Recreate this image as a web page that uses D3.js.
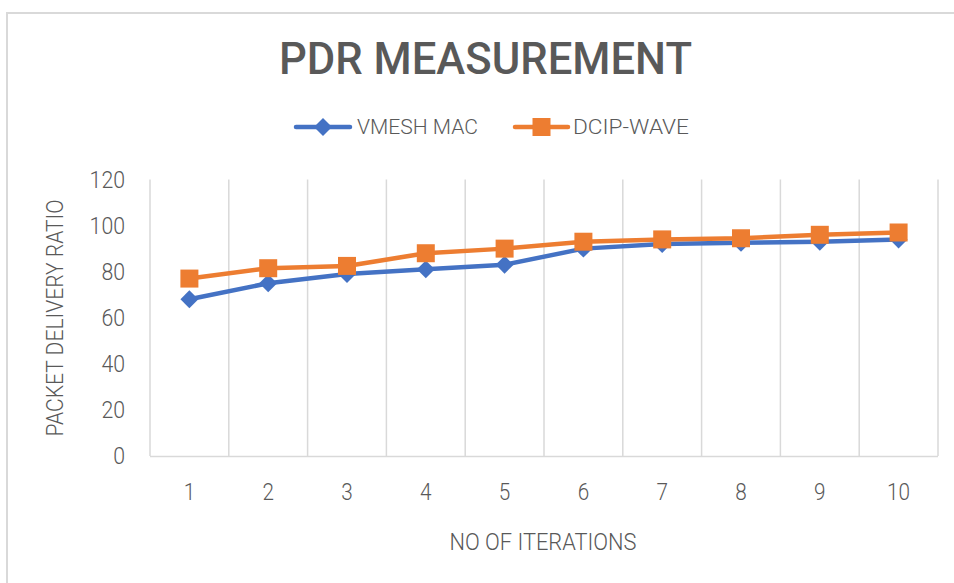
<!DOCTYPE html>
<html>
<head>
<meta charset="utf-8">
<script src="https://cdn.jsdelivr.net/npm/d3@7"></script>
<style>
  html, body { margin: 0; padding: 0; background: #fff; }
  svg { display: block; }
  text { font-family: Roboto, "Liberation Sans", sans-serif; fill: #595959; font-weight: 300; }
</style>
</head>
<body>
<svg id="chart" width="954" height="583"></svg>
<script>
const title = "PDR MEASUREMENT";
const xTitle = "NO OF ITERATIONS";
const yTitle = "PACKET DELIVERY RATIO";
const categories = ["1", "2", "3", "4", "5", "6", "7", "8", "9", "10"];
const seriesNames = ["VMESH MAC", "DCIP-WAVE"];
const vmeshValues = [68, 75, 79, 81, 83, 90, 92, 92.5, 93, 94];
const dcipValues = [77, 81.5, 82.5, 88, 90, 93, 94, 94.5, 96, 97];
const yTicks = [0, 20, 40, 60, 80, 100, 120];
const colors = ["#4472C4", "#ED7D31"];

const svg = d3.select("#chart");
const W = 954, H = 583;
const plot = { left: 150, right: 938, top: 179.5, bottom: 456 };

// chart border
svg.append("rect")
  .attr("x", 7).attr("y", 13).attr("width", W).attr("height", H)
  .attr("fill", "none").attr("stroke", "#d9d9d9").attr("stroke-width", 2);

const x = d3.scaleBand().domain(categories).range([plot.left, plot.right]).padding(0);
const y = d3.scaleLinear().domain([0, 120]).range([plot.bottom, plot.top]);

// vertical gridlines at category boundaries
const bounds = categories.map(c => x(c)).concat([x(categories[categories.length - 1]) + x.bandwidth()]);
svg.append("g").selectAll("line").data(bounds).join("line")
  .attr("x1", d => d).attr("x2", d => d)
  .attr("y1", plot.top).attr("y2", plot.bottom)
  .attr("stroke", "#d9d9d9").attr("stroke-width", 1.5);

// bottom axis line
svg.append("line")
  .attr("x1", plot.left).attr("x2", plot.right)
  .attr("y1", plot.bottom + 0.5).attr("y2", plot.bottom + 0.5)
  .attr("stroke", "#d9d9d9").attr("stroke-width", 1.5);

// y tick labels
svg.append("g").selectAll("text").data(yTicks).join("text")
  .attr("x", 125).attr("y", d => y(d)).attr("dy", "0.36em")
  .attr("text-anchor", "end")
  .attr("font-size", 23)
  .attr("textLength", d => String(d).length * 11.8)
  .attr("lengthAdjust", "spacingAndGlyphs")
  .text(d => d);

// x tick labels
svg.append("g").selectAll("text").data(categories).join("text")
  .attr("x", d => x(d) + x.bandwidth() / 2).attr("y", 500)
  .attr("text-anchor", "middle")
  .attr("font-size", 23)
  .attr("textLength", d => d.length * 11.5)
  .attr("lengthAdjust", "spacingAndGlyphs")
  .text(d => d);

// axis titles
svg.append("text")
  .attr("x", 543).attr("y", 550)
  .attr("text-anchor", "middle")
  .attr("font-size", 24)
  .attr("textLength", 187).attr("lengthAdjust", "spacingAndGlyphs")
  .text(xTitle);

svg.append("text")
  .attr("transform", "translate(63,318) rotate(-90)")
  .attr("text-anchor", "middle")
  .attr("font-size", 24)
  .attr("textLength", 237).attr("lengthAdjust", "spacingAndGlyphs")
  .text(yTitle);

// title
svg.append("text")
  .attr("x", 485.5).attr("y", 74)
  .attr("text-anchor", "middle")
  .attr("font-size", 44).style("font-weight", "500")
  .attr("textLength", 413).attr("lengthAdjust", "spacingAndGlyphs")
  .text(title);

const squareSym = d3.symbol().type(d3.symbolSquare).size(18 * 18);
const diamondSym = d3.symbol().type(d3.symbolSquare).size(12.7 * 12.7);

const series = [
  { name: seriesNames[0], values: vmeshValues, color: colors[0], marker: "diamond" },
  { name: seriesNames[1], values: dcipValues, color: colors[1], marker: "square" }
];

const line = d3.line()
  .x((d, i) => x(categories[i]) + x.bandwidth() / 2)
  .y(d => y(d));

function drawMarker(g, type, color) {
  g.append("path")
    .attr("d", type === "square" ? squareSym() : diamondSym())
    .attr("transform", type === "square" ? null : "rotate(45)")
    .attr("fill", color);
}

series.forEach(s => {
  const g = svg.append("g");
  g.append("path").datum(s.values)
    .attr("d", line)
    .attr("fill", "none").attr("stroke", s.color)
    .attr("stroke-width", 4.5).attr("stroke-linejoin", "round").attr("stroke-linecap", "round");
  s.values.forEach((v, i) => {
    const m = g.append("g")
      .attr("transform", `translate(${x(categories[i]) + x.bandwidth() / 2},${y(v)})`);
    drawMarker(m, s.marker, s.color);
  });
});

// legend
const legendItems = [
  { lx1: 296, lx2: 350, tx: 357, tl: 121 },
  { lx1: 515, lx2: 568, tx: 573, tl: 116 }
];
series.forEach((s, i) => {
  const L = legendItems[i];
  const g = svg.append("g");
  g.append("line")
    .attr("x1", L.lx1).attr("x2", L.lx2).attr("y1", 127).attr("y2", 127)
    .attr("stroke", s.color).attr("stroke-width", 4.5).attr("stroke-linecap", "round");
  const m = g.append("g").attr("transform", `translate(${(L.lx1 + L.lx2) / 2},127)`);
  drawMarker(m, s.marker, s.color);
  g.append("text")
    .attr("x", L.tx).attr("y", 134)
    .attr("font-size", 21)
    .attr("textLength", L.tl).attr("lengthAdjust", "spacingAndGlyphs")
    .text(s.name);
});
</script>
</body>
</html>
